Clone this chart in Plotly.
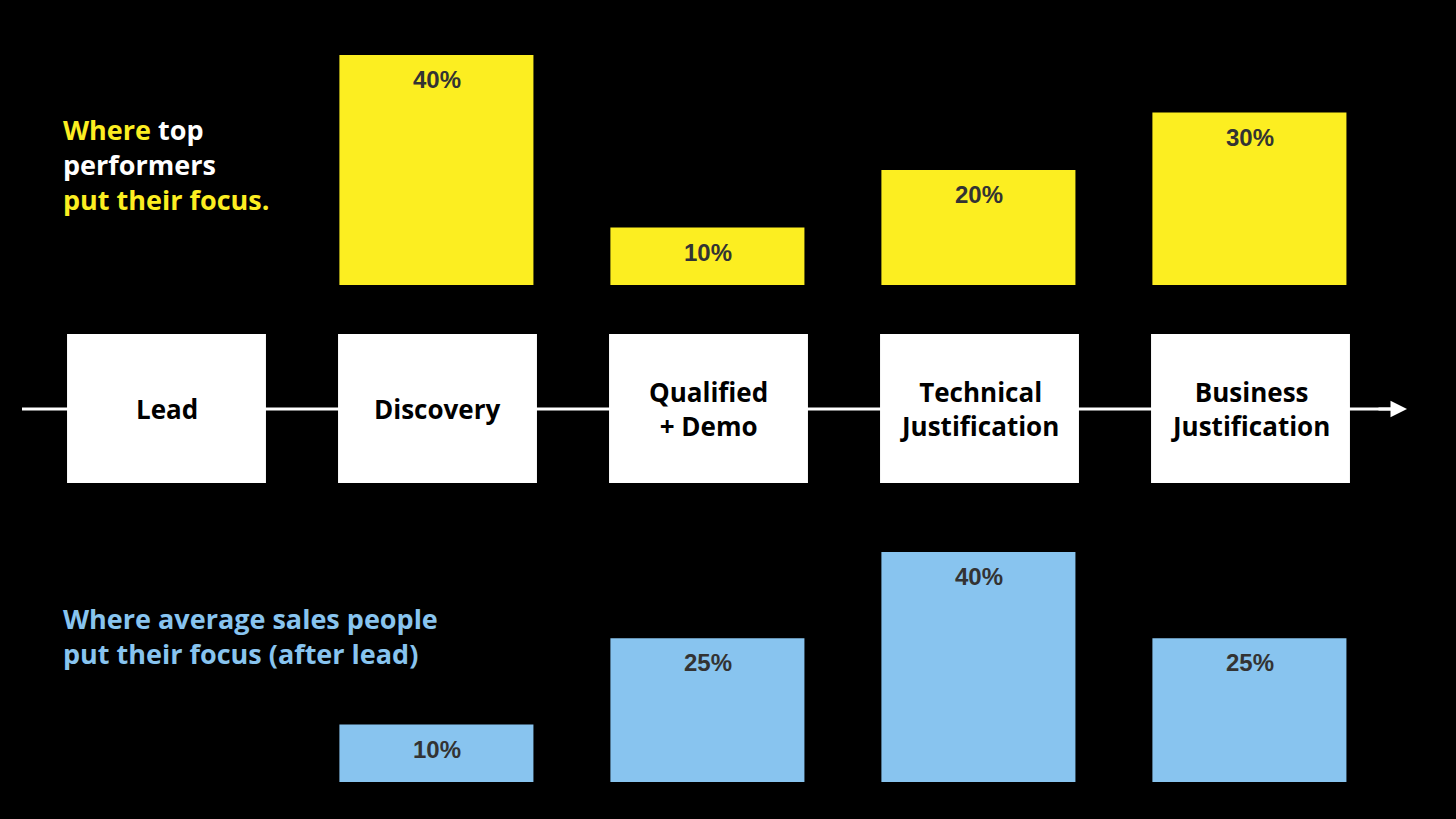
import plotly.graph_objects as go

stages = ["Lead", "Discovery", "Qualified<br>+ Demo", "Technical<br>Justification", "Business<br>Justification"]
stage_idx = [0, 1, 2, 3, 4]
bar_idx = [1, 2, 3, 4]
top_values = [40, 10, 20, 30]
avg_values = [10, 25, 40, 25]

YELLOW = "#FCEE21"
BLUE = "#88C4EF"
LABEL = "#333333"

W, H = 1456, 819
x0px, step = 166.5, 271.0
xrange = [-x0px / step, (W - x0px) / step]
px_per_pct = 5.75

top_base = 1 - 285 / H
bot_base = 1 - 782 / H
bot_top = 0.5
top_range = [0, 285 / px_per_pct]
bot_range = [0, (bot_top - bot_base) * H / px_per_pct]

fig = go.Figure()
fig.add_trace(go.Bar(x=bar_idx, y=top_values, width=0.716, offset=-0.362,
                     marker=dict(color=YELLOW, line=dict(width=0)), yaxis="y", hoverinfo="skip"))
fig.add_trace(go.Bar(x=bar_idx, y=avg_values, width=0.716, offset=-0.362,
                     marker=dict(color=BLUE, line=dict(width=0)), yaxis="y2", hoverinfo="skip"))

annotations = []
for xi, v in zip(bar_idx, top_values):
    annotations.append(dict(x=xi, y=v, xref="x", yref="y", text=f"<b>{v}%</b>", showarrow=False,
                            yanchor="top", yshift=-9, xshift=-1,
                            font=dict(family="Liberation Sans, Arial", size=24, color=LABEL)))
for xi, v in zip(bar_idx, avg_values):
    annotations.append(dict(x=xi, y=v, xref="x", yref="y2", text=f"<b>{v}%</b>", showarrow=False,
                            yanchor="top", yshift=-9, xshift=-1,
                            font=dict(family="Liberation Sans, Arial", size=24, color=LABEL)))

shapes = []
line_y = 1 - 409 / H
shapes.append(dict(type="line", xref="x", yref="paper", x0=(22 - x0px) / step, x1=(1400 - x0px) / step,
                   y0=line_y, y1=line_y, line=dict(color="white", width=3), layer="above"))
box_y0, box_y1 = 1 - 483 / H, 1 - 334 / H
half = 0.367
for xi, name in zip(stage_idx, stages):
    shapes.append(dict(type="rect", xref="x", yref="paper", x0=xi - half, x1=xi + half,
                       y0=box_y0, y1=box_y1, fillcolor="white", line=dict(width=0), layer="above"))
    annotations.append(dict(x=xi, y=(box_y0 + box_y1) / 2, xref="x", yref="paper", text=f"<b>{name}</b>",
                            showarrow=False, yanchor="middle",
                            font=dict(family="Open Sans", size=26, color="black")))

annotations.append(dict(x=(1407 - x0px) / step, y=line_y, xref="x", yref="paper", ax=-30, ay=0,
                        text="", showarrow=True, arrowhead=2, arrowsize=1.1, arrowwidth=3, arrowcolor="white"))

annotations.append(dict(x=61 / W, y=1 - 165 / H, xref="paper", yref="paper", xanchor="left", yanchor="middle",
                        align="left", showarrow=False,
                        text=f"<b><span style='color:{YELLOW}'>Where</span> top<br>performers<br>"
                             f"<span style='color:{YELLOW}'>put their focus.</span></b>",
                        font=dict(family="Open Sans", size=27, color="white")))
annotations.append(dict(x=61 / W, y=1 - 635.5 / H, xref="paper", yref="paper", xanchor="left", yanchor="middle",
                        align="left", showarrow=False,
                        text="<b>Where average sales people<br>put their focus (after lead)</b>",
                        font=dict(family="Open Sans", size=27, color=BLUE)))

fig.update_layout(
    width=W, height=H, margin=dict(l=0, r=0, t=0, b=0),
    paper_bgcolor="black", plot_bgcolor="black", showlegend=False,
    xaxis=dict(range=xrange, visible=False, fixedrange=True),
    yaxis=dict(domain=[top_base, 1], range=top_range, visible=False, fixedrange=True),
    yaxis2=dict(domain=[bot_base, bot_top], range=bot_range, visible=False, fixedrange=True),
    shapes=shapes, annotations=annotations,
)
fig.write_html("out.html", config={"displayModeBar": False},
               post_script="document.body.style.margin='0';document.body.style.background='black';")
